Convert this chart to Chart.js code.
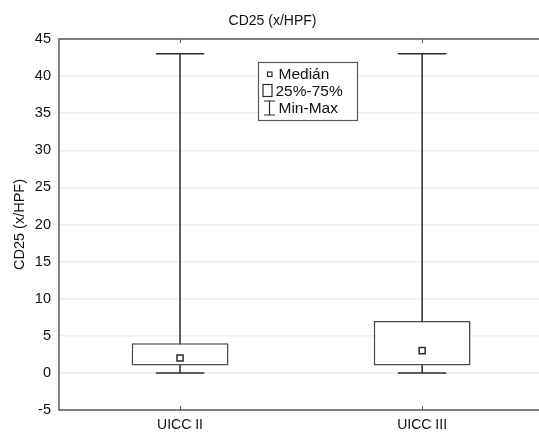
<!DOCTYPE html>
<html>
<head>
<meta charset="utf-8">
<script src="https://cdn.jsdelivr.net/npm/chart.js@4"></script>
<style>
  html, body { margin: 0; padding: 0; background: #fff; overflow: hidden; }
  #wrap { width: 539px; height: 432px; overflow: hidden; }
  canvas { display: block; }
</style>
</head>
<body>
<div id="wrap"><canvas id="c" width="549" height="432" style="width:549px;height:432px"></canvas></div>
<script>
// Box-and-whisker summary of CD25 counts per UICC stage
const categories = ['UICC II', 'UICC III'];
const minValues = [0, 0];
const q1Values = [1, 1];
const medianValues = [2, 3];
const q3Values = [4, 7];
const maxValues = [43, 43];

const chartTitle = 'CD25 (x/HPF)';
const yAxisTitle = 'CD25 (x/HPF)';
const yMin = -5, yMax = 45, yStep = 5;
const legendLabels = ['Medián', '25%-75%', 'Min-Max'];

const FONT = '"Liberation Sans", Arial, sans-serif';
const LINE = '#2b2b2b';
const BOX = '#4a4a4a';
const FRAME = '#5a5a5a';

// Whiskers (min-max line with caps), drawn beneath the boxes
const whiskerPlugin = {
  id: 'whiskers',
  beforeDatasetsDraw(chart) {
    const x = chart.scales.x, y = chart.scales.y;
    const ctx = chart.ctx;
    const band = x.width / categories.length;
    ctx.save();
    ctx.strokeStyle = LINE;
    ctx.lineWidth = 1.5;
    categories.forEach((c, i) => {
      const cx = x.getPixelForValue(i);
      const yTop = y.getPixelForValue(maxValues[i]);
      const yBot = y.getPixelForValue(minValues[i]);
      const half = band * 0.1;
      ctx.beginPath();
      ctx.moveTo(cx, yTop); ctx.lineTo(cx, yBot);
      ctx.moveTo(cx - half, yTop); ctx.lineTo(cx + half, yTop);
      ctx.moveTo(cx - half, yBot); ctx.lineTo(cx + half, yBot);
      ctx.stroke();
    });
    ctx.restore();
  }
};

// Plot frame, inner category ticks and the legend box
const framePlugin = {
  id: 'frame',
  afterDraw(chart) {
    const a = chart.chartArea;
    const ctx = chart.ctx;
    const x = chart.scales.x;
    ctx.save();
    ctx.strokeStyle = FRAME;
    ctx.lineWidth = 1.5;
    ctx.beginPath();
    ctx.moveTo(a.left, a.top); ctx.lineTo(a.right, a.top);
    ctx.lineTo(a.right, a.bottom); ctx.lineTo(a.left, a.bottom);
    ctx.closePath();
    ctx.stroke();
    ctx.lineWidth = 1;
    categories.forEach((c, i) => {
      const cx = Math.round(x.getPixelForValue(i)) + 0.5;
      ctx.beginPath();
      ctx.moveTo(cx, a.bottom); ctx.lineTo(cx, a.bottom - 4);
      ctx.moveTo(cx, a.top); ctx.lineTo(cx, a.top + 4);
      ctx.stroke();
    });

    // legend
    const lx = a.left + 199, ly = a.top + 23, lw = 99, lh = 58;
    ctx.fillStyle = '#fff';
    ctx.fillRect(lx, ly, lw, lh);
    ctx.strokeStyle = FRAME;
    ctx.lineWidth = 1.2;
    ctx.strokeRect(lx + 0.5, ly + 0.5, lw, lh);
    ctx.strokeStyle = LINE;
    ctx.lineWidth = 1.2;
    // median symbol
    ctx.strokeRect(lx + 9.5, ly + 10, 4.5, 4.5);
    // box symbol
    ctx.strokeRect(lx + 5, ly + 22.5, 9, 12);
    // whisker symbol
    const wx = lx + 11.5;
    ctx.beginPath();
    ctx.moveTo(wx - 5.5, ly + 39); ctx.lineTo(wx + 5.5, ly + 39);
    ctx.moveTo(wx, ly + 39); ctx.lineTo(wx, ly + 53);
    ctx.moveTo(wx - 5.5, ly + 53); ctx.lineTo(wx + 5.5, ly + 53);
    ctx.stroke();
    ctx.fillStyle = '#111';
    ctx.font = '15.5px ' + FONT;
    ctx.textBaseline = 'middle';
    ctx.fillText(legendLabels[0], lx + 20.5, ly + 13);
    ctx.fillText(legendLabels[1], lx + 17.5, ly + 30);
    ctx.fillText(legendLabels[2], lx + 20.5, ly + 47);
    ctx.restore();
  }
};

new Chart(document.getElementById('c'), {
  data: {
    labels: categories,
    datasets: [
      {
        type: 'bar',
        label: legendLabels[1],
        data: q1Values.map((v, i) => [v, q3Values[i]]),
        backgroundColor: '#fff',
        borderColor: BOX,
        borderWidth: 1.6,
        borderSkipped: false,
        barPercentage: 0.4,
        categoryPercentage: 1.0,
        order: 2
      },
      {
        type: 'line',
        label: legendLabels[0],
        data: medianValues,
        showLine: false,
        pointStyle: 'rect',
        pointRadius: 4.3,
        pointBackgroundColor: '#fff',
        pointBorderColor: LINE,
        pointBorderWidth: 1.5,
        order: 1
      }
    ]
  },
  options: {
    responsive: false,
    animation: false,
    devicePixelRatio: 1,
    layout: { padding: { left: 0, right: 4, top: 0, bottom: 0 } },
    plugins: {
      legend: { display: false },
      tooltip: { enabled: false },
      title: {
        display: true,
        text: chartTitle,
        color: '#111',
        font: { family: FONT, size: 14, weight: 'normal' },
        padding: { top: 12.6, bottom: 9.6 }
      }
    },
    scales: {
      x: {
        type: 'category',
        offset: true,
        grid: { display: false, drawTicks: false },
        border: { display: false },
        ticks: { color: '#111', font: { family: FONT, size: 14 }, padding: 7 },
        afterFit(s) { s.height = 22; }
      },
      y: {
        min: yMin, max: yMax,
        grid: { color: '#eeeeee', lineWidth: 1.5, drawTicks: false },
        border: { display: false },
        ticks: { stepSize: yStep, color: '#111', font: { family: FONT, size: 14.5 }, padding: 8 },
        title: {
          display: true, text: yAxisTitle, color: '#111',
          font: { family: FONT, size: 14.5 }, padding: { top: 11, bottom: 0 }
        },
        afterFit(s) { s.width = 59; }
      }
    }
  },
  plugins: [whiskerPlugin, framePlugin]
});
</script>
</body>
</html>
